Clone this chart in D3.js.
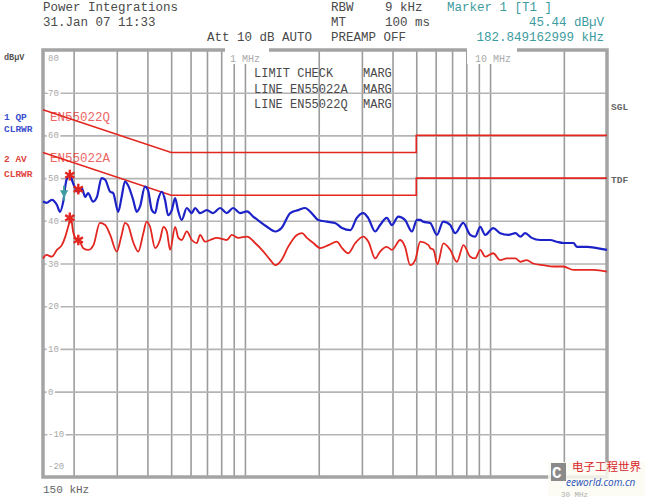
<!DOCTYPE html>
<html>
<head>
<meta charset="utf-8">
<script src="https://cdn.jsdelivr.net/npm/d3@7"></script>
<style>
    body { margin: 0; background: #fff; }
    svg text { font-family: "Liberation Mono", "DejaVu Sans Mono", monospace; }
</style>
</head>
<body>
<div id="emi"></div>
<script>
// Trace data (frequency in MHz, level in dBuV)
const qpFreq = [0.150, 0.155, 0.163, 0.171, 0.176, 0.181, 0.187, 0.193, 0.199, 0.209,
    0.216, 0.223, 0.229, 0.240, 0.249, 0.260, 0.269, 0.282, 0.290, 0.304,
    0.314, 0.324, 0.333, 0.350, 0.362, 0.373, 0.391, 0.402, 0.417, 0.430,
    0.442, 0.458, 0.472, 0.486, 0.503, 0.519, 0.533, 0.552, 0.579, 0.607,
    0.626, 0.656, 0.699, 0.741, 0.792, 0.843, 0.895, 0.955, 1.02, 1.08,
    1.15, 1.23, 1.33, 1.41, 1.53, 1.65, 1.76, 1.87, 1.99, 2.16,
    2.33, 2.49, 2.69, 2.86, 3.04, 3.18, 3.40, 3.56, 3.79, 3.98,
    4.22, 4.50, 4.80, 5.03, 5.19, 5.33, 5.70, 6.07, 6.44, 6.88,
    7.21, 7.77, 8.30, 8.70, 9.12, 9.55, 10.3, 11.0, 11.9, 12.7,
    13.3, 13.9, 14.8, 16.0, 17.6, 18.7, 19.9, 21.9, 22.6, 24.9,
    27.3, 30.0];
const qpLevel = [44.5, 44.2, 44.9, 43.7, 42.1, 44.2, 49.6, 50.7, 48.8, 46.7,
    47.6, 45.6, 46.5, 44.5, 45.6, 50.0, 49.6, 46.8, 46.5, 42.1,
    45.6, 49.2, 48.4, 44.9, 42.1, 43.3, 48.0, 47.2, 42.5, 41.8,
    44.9, 46.8, 44.9, 41.3, 42.5, 45.3, 42.5, 40.2, 43.0, 41.8,
    43.0, 41.8, 42.5, 41.8, 43.0, 41.8, 43.0, 41.8, 42.2, 41.0,
    39.8, 38.6, 37.5, 38.3, 41.8, 42.5, 43.0, 41.8, 40.2, 39.8,
    39.5, 38.3, 37.8, 40.7, 41.8, 40.7, 37.5, 39.0, 40.7, 39.0,
    41.0, 40.2, 37.5, 40.2, 40.2, 39.8, 39.5, 36.7, 39.8, 39.0,
    37.1, 39.5, 36.7, 36.3, 38.6, 36.7, 38.3, 37.1, 36.7, 37.1,
    36.3, 37.1, 36.0, 35.5, 35.5, 35.1, 34.8, 34.8, 33.9, 33.9,
    33.6, 33.2];

const avFreq = [0.150, 0.155, 0.163, 0.171, 0.179, 0.185, 0.190, 0.195, 0.199, 0.206,
    0.212, 0.219, 0.230, 0.241, 0.256, 0.269, 0.282, 0.300, 0.314, 0.324,
    0.333, 0.351, 0.367, 0.385, 0.397, 0.410, 0.430, 0.450, 0.465, 0.480,
    0.495, 0.519, 0.535, 0.552, 0.579, 0.607, 0.636, 0.656, 0.688, 0.721,
    0.768, 0.843, 0.884, 0.940, 1.02, 1.10, 1.19, 1.27, 1.33, 1.41,
    1.50, 1.63, 1.71, 1.79, 1.90, 2.03, 2.19, 2.37, 2.49, 2.64,
    2.82, 3.04, 3.19, 3.40, 3.56, 3.79, 3.98, 4.30, 4.50, 4.72,
    4.95, 5.19, 5.61, 5.70, 5.88, 6.10, 6.45, 6.88, 7.32, 7.79,
    8.30, 8.70, 9.12, 9.55, 10.3, 11.0, 11.7, 12.7, 13.3, 14.1,
    15.0, 16.5, 18.2, 19.9, 21.9, 24.1, 26.4, 30.0];
const avLevel = [31.2, 32.0, 31.6, 33.2, 34.3, 36.3, 38.6, 40.7, 37.5, 35.5,
    35.1, 33.6, 33.2, 34.3, 39.5, 39.0, 36.7, 32.8, 36.7, 39.5,
    39.0, 34.8, 32.8, 37.1, 39.8, 38.6, 33.6, 35.5, 38.6, 37.5,
    33.2, 38.6, 36.0, 35.5, 37.5, 35.5, 34.8, 36.7, 35.1, 35.5,
    36.0, 35.5, 36.7, 36.0, 36.3, 34.8, 32.8, 30.8, 29.6, 30.8,
    33.9, 36.7, 37.1, 36.0, 34.8, 33.6, 34.3, 35.1, 33.6, 32.4,
    34.8, 36.3, 35.1, 31.2, 32.8, 33.9, 33.2, 35.5, 33.9, 29.6,
    30.8, 35.1, 34.3, 33.6, 33.2, 29.8, 34.7, 33.2, 30.4, 34.3,
    31.6, 31.2, 33.2, 31.6, 32.4, 30.8, 31.2, 31.2, 30.4, 30.8,
    30.0, 29.6, 29.3, 29.3, 28.5, 28.5, 28.5, 28.1];

// EN55022 class B limit lines
const limitFreq = [0.15, 0.5, 5, 5, 30];
const qpLimit = [66, 56, 56, 60, 60];
const avLimit = [56, 46, 46, 50, 50];

// final measurement peaks (red stars) and marker T1
const peakFreq = [0.193, 0.209, 0.193, 0.209];
const peakLevel = [50.7, 47.4, 40.7, 35.5];
const markerFreq = 0.182849162999;
const markerLevel = 45.44;

const xGridValues = [0.2, 0.3, 0.4, 0.5, 0.6, 0.7, 0.8, 0.9, 1, 2, 3, 4, 5, 6, 7, 8, 9, 10, 20];
const yGridValues = [70, 60, 50, 40, 30, 20, 10, 0, -10];
const yLabelValues = [80, 70, 60, 50, 40, 30, 20, 10, 0, -10, -20];

const width = 647, height = 498;
const plot = { left: 43, right: 607, top: 50, bottom: 477 };

const svg = d3
    .select('#emi')
    .append('svg')
    .attr('width', width)
    .attr('height', height);

const x = d3.scaleLog()
    .domain([0.15, 30])
    .range([plot.left, plot.right]);

const y = d3.scaleLinear()
    .domain([-20, 80])
    .range([plot.bottom, plot.top]);

// header block
const header = svg.append('g').attr('font-size', 12.5).attr('fill', '#4a4a4a');
header.append('text').attr('x', 43).attr('y', 11).text('Power Integrations');
header.append('text').attr('x', 43).attr('y', 26).text('31.Jan 07 11:33');
header.append('text').attr('x', 207).attr('y', 41).text('Att 10 dB AUTO');
header.append('text').attr('x', 331).attr('y', 11).text('RBW');
header.append('text').attr('x', 385).attr('y', 11).text('9 kHz');
header.append('text').attr('x', 331).attr('y', 26).text('MT');
header.append('text').attr('x', 385).attr('y', 26).text('100 ms');
header.append('text').attr('x', 331).attr('y', 41).text('PREAMP OFF');

const teal = '#3d9ca0';
header.append('text').attr('x', 447).attr('y', 11).attr('fill', teal).text('Marker 1 [T1 ]');
header.append('text').attr('x', 604).attr('y', 26).attr('fill', teal)
    .attr('text-anchor', 'end').text('45.44 dB\u00b5V');
header.append('text').attr('x', 604).attr('y', 41).attr('fill', teal)
    .attr('text-anchor', 'end').text('182.849162999 kHz');

// vertical grid
svg.append('g')
    .attr('transform', 'translate(0,' + plot.bottom + ')')
    .call(d3.axisBottom(x).tickValues(xGridValues)
        .tickSize(-(plot.bottom - plot.top)).tickFormat(''))
    .call(g => g.select('.domain').remove())
    .selectAll('line')
    .attr('stroke', '#9c9c9c')
    .attr('stroke-width', 1.6);

// horizontal grid
svg.append('g')
    .attr('transform', 'translate(' + plot.left + ',0)')
    .call(d3.axisLeft(y).tickValues(yGridValues)
        .tickSize(-(plot.right - plot.left)).tickFormat(''))
    .call(g => g.select('.domain').remove())
    .selectAll('line')
    .attr('stroke', '#b4b4b4')
    .attr('stroke-width', 1.6);

// frame
svg.append('rect')
    .attr('x', plot.left)
    .attr('y', plot.top)
    .attr('width', plot.right - plot.left)
    .attr('height', plot.bottom - plot.top)
    .attr('fill', 'none')
    .attr('stroke', '#a4a4a4')
    .attr('stroke-width', 3.5);

// y labels inside the frame
svg.append('g')
    .selectAll('text')
    .data(yLabelValues)
    .enter()
    .append('text')
    .attr('x', plot.left + 5)
    .attr('y', d => Math.min(Math.max(y(d), plot.top + 8), plot.bottom - 11) + 3)
    .attr('font-size', 9)
    .attr('fill', '#a8a8a8')
    .attr('stroke', '#fff')
    .attr('stroke-width', 4)
    .style('paint-order', 'stroke')
    .text(d => d);

// decade labels over the top border
[[1, '1 MHz', 225, 44], [10, '10 MHz', 467, 50]].forEach(([f, label, bx, bw]) => {
    svg.append('rect')
        .attr('x', bx).attr('y', plot.top - 3)
        .attr('width', bw).attr('height', 17)
        .attr('fill', '#fff');
    svg.append('text')
        .attr('x', x(f) - 15)
        .attr('y', 62)
        .attr('font-size', 10)
        .attr('fill', '#aaaaaa')
        .text(label);
});

// limit check block
const check = svg.append('g').attr('font-size', 12).attr('fill', '#4a4a4a');
check.append('text').attr('x', 254).attr('y', 77).text('LIMIT CHECK');
check.append('text').attr('x', 254).attr('y', 93).text('LINE EN55022A');
check.append('text').attr('x', 254).attr('y', 108).text('LINE EN55022Q');
[77, 93, 108].forEach(t => check.append('text').attr('x', 363).attr('y', t).text('MARG'));

const red = '#e3261f';
const blue = '#1c22c8';

const line = d3.line()
    .x(d => x(d[0]))
    .y(d => y(d[1]));

const trace = d3.line()
    .curve(d3.curveMonotoneX)
    .x(d => x(d[0]))
    .y(d => y(d[1]));

// limit lines
svg.append('path')
    .datum(d3.zip(limitFreq, qpLimit))
    .attr('d', line)
    .attr('fill', 'none')
    .attr('stroke', red)
    .attr('stroke-width', 1.6);

svg.append('path')
    .datum(d3.zip(limitFreq, avLimit))
    .attr('d', line)
    .attr('fill', 'none')
    .attr('stroke', red)
    .attr('stroke-width', 1.6);

svg.append('text').attr('x', 50).attr('y', 121).attr('font-size', 12.5)
    .attr('fill', red).attr('opacity', 0.7).text('EN55022Q');
svg.append('text').attr('x', 50).attr('y', 162).attr('font-size', 12.5)
    .attr('fill', red).attr('opacity', 0.7).text('EN55022A');

// traces
svg.append('path')
    .datum(d3.zip(avFreq, avLevel))
    .attr('d', trace)
    .attr('fill', 'none')
    .attr('stroke', red)
    .attr('stroke-width', 1.8)
    .attr('stroke-linejoin', 'round');

svg.append('path')
    .datum(d3.zip(qpFreq, qpLevel))
    .attr('d', trace)
    .attr('fill', 'none')
    .attr('stroke', blue)
    .attr('stroke-width', 2.2)
    .attr('stroke-linejoin', 'round');

// peak stars
svg.append('g')
    .selectAll('path')
    .data(d3.zip(peakFreq, peakLevel))
    .enter()
    .append('path')
    .attr('transform', d => 'translate(' + x(d[0]) + ',' + y(d[1]) + ')')
    .attr('d', d3.symbol(d3.symbolAsterisk, 80))
    .attr('fill', 'none')
    .attr('stroke', red)
    .attr('stroke-width', 2.4);

// marker T1
svg.append('path')
    .attr('transform', 'translate(' + x(markerFreq) + ',' + (y(markerLevel) - 5) + ') rotate(180)')
    .attr('d', d3.symbol(d3.symbolTriangle, 30))
    .attr('fill', teal);
svg.append('line')
    .attr('x1', x(markerFreq)).attr('x2', x(markerFreq))
    .attr('y1', y(markerLevel) - 12).attr('y2', y(markerLevel) + 3)
    .attr('stroke', teal).attr('stroke-width', 2);

// left side trace labels
const side = svg.append('g').attr('font-size', 9.5).attr('font-weight', 'bold');
side.append('text').attr('x', 4).attr('y', 60).attr('fill', '#555').attr('font-size', 8.5).text('dB\u00b5V');
side.append('text').attr('x', 4).attr('y', 120).attr('fill', '#3b4fcf').text('1 QP');
side.append('text').attr('x', 4).attr('y', 132).attr('fill', '#3b4fcf').text('CLRWR');
side.append('text').attr('x', 4).attr('y', 162).attr('fill', '#e0453c').text('2 AV');
side.append('text').attr('x', 4).attr('y', 177).attr('fill', '#e0453c').text('CLRWR');

// right side labels
svg.append('text').attr('x', 611).attr('y', 110).attr('font-size', 9.5)
    .attr('font-weight', 'bold').attr('fill', '#666').text('SGL');
svg.append('text').attr('x', 611).attr('y', 183).attr('font-size', 9.5)
    .attr('font-weight', 'bold').attr('fill', '#666').text('TDF');

// bottom labels
svg.append('text').attr('x', 43).attr('y', 493).attr('font-size', 11)
    .attr('fill', '#666').text('150 kHz');

// watermark
const wm = svg.append('g');
wm.append('rect').attr('x', 548).attr('y', 462).attr('width', 97).attr('height', 34)
    .attr('fill', '#fcfaf2').attr('opacity', 0.85);
wm.append('rect').attr('x', 551).attr('y', 463).attr('width', 15).attr('height', 18)
    .attr('fill', '#8a8a8a');
wm.append('text').attr('x', 552).attr('y', 478).attr('font-size', 16)
    .attr('font-family', 'Arial, sans-serif').attr('font-weight', 'bold')
    .attr('fill', '#fff').text('C');
wm.append('text').attr('x', 572).attr('y', 471).attr('font-size', 11.5)
    .style('font-family', '"Noto Sans CJK SC", sans-serif')
    .attr('fill', '#d8262a').text('电子工程世界');
wm.append('text').attr('x', 566).attr('y', 486).attr('font-size', 10)
    .style('font-family', '"Open Sans", sans-serif').attr('font-style', 'italic')
    .attr('fill', '#2850b8').text('eeworld.com.cn');
wm.append('text').attr('x', 561).attr('y', 497).attr('font-size', 7.5)
    .attr('fill', '#b0b0b0').text('30 MHz');
</script>
</body>
</html>
